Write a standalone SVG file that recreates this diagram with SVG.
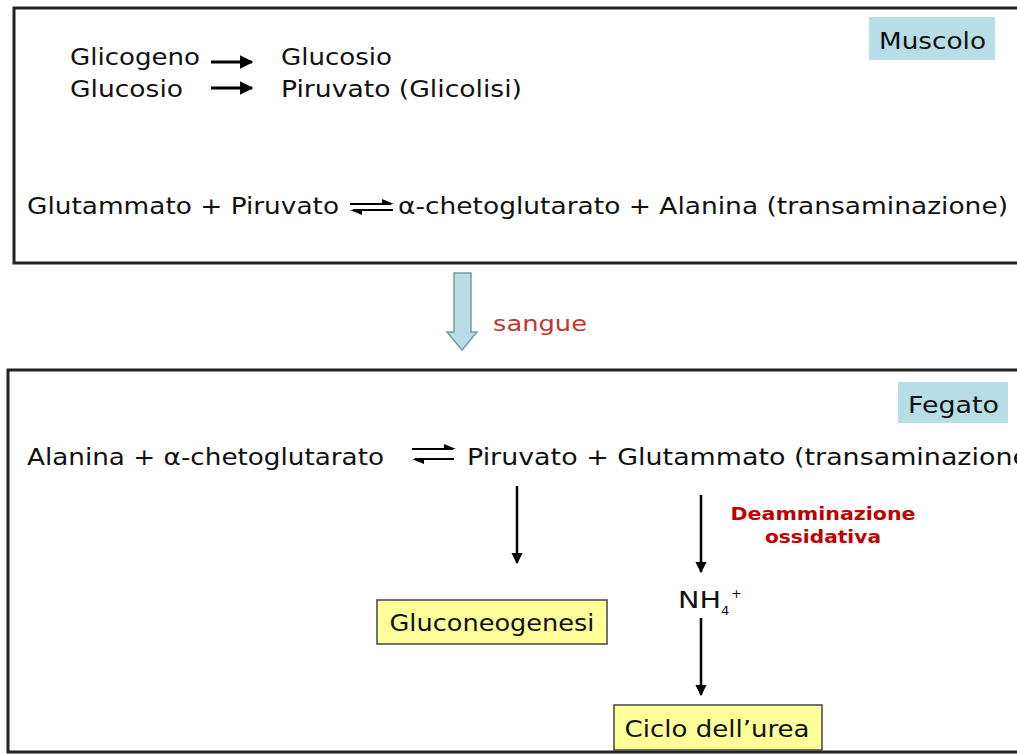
<svg xmlns="http://www.w3.org/2000/svg" width="1017" height="754" viewBox="0 0 1017 754">
<style>
.t{font-family:"DejaVu Sans","Liberation Sans",sans-serif;font-size:23px;fill:#111}
.red{font-family:"DejaVu Sans","Liberation Sans",sans-serif;font-size:21px;fill:#c0392b}
.bred{font-family:"DejaVu Sans","Liberation Sans",sans-serif;font-size:17px;font-weight:bold;fill:#c00000}
.frame{fill:#fff;stroke:#222;stroke-width:3}
.tag{fill:#b7dde6;stroke:none}
.yel{fill:#ffff99;stroke:#444;stroke-width:1.5}
.ln{stroke:#000;stroke-width:2.5;fill:none}
.eq{stroke:#000;stroke-width:2;fill:none}
</style>
<defs>
<marker id="ah" viewBox="0 0 10 10" refX="9" refY="5" markerWidth="4.5" markerHeight="5" orient="auto" markerUnits="strokeWidth">
<path d="M0,0 L10,5 L0,10 z" fill="#000"/>
</marker>
</defs>
<rect width="1017" height="754" fill="#fff"/>

<g id="muscolo-box">
<rect class="frame" x="14" y="8" width="1010" height="255"/>
<rect class="tag" x="869" y="17" width="126" height="43"/>
<text class="t" x="879" y="49" textLength="107" lengthAdjust="spacingAndGlyphs">Muscolo</text>
<text class="t" x="70" y="65" textLength="130" lengthAdjust="spacingAndGlyphs">Glicogeno</text>
<text class="t" x="70" y="97" textLength="113" lengthAdjust="spacingAndGlyphs">Glucosio</text>
<text class="t" x="281" y="65" textLength="111" lengthAdjust="spacingAndGlyphs">Glucosio</text>
<text class="t" x="281" y="97" textLength="241" lengthAdjust="spacingAndGlyphs">Piruvato (Glicolisi)</text>
<text class="t" x="27" y="214" textLength="312" lengthAdjust="spacingAndGlyphs">Glutammato + Piruvato</text>
<text class="t" x="398" y="214" textLength="610" lengthAdjust="spacingAndGlyphs">α-chetoglutarato + Alanina (transaminazione)</text>
</g>

<g id="sangue">
<path d="M454,273 L471,273 L471,332 L477,332 L462,350 L447,332 L454,332 Z" fill="#b7dde6" stroke="#7a9aa2" stroke-width="1.5"/>
<text class="red" x="493" y="331" textLength="94" lengthAdjust="spacingAndGlyphs">sangue</text>
</g>

<g id="fegato-box">
<rect class="frame" x="8" y="370" width="1020" height="382"/>
<rect class="tag" x="898" y="382" width="110" height="41"/>
<text class="t" x="908" y="413" textLength="91" lengthAdjust="spacingAndGlyphs">Fegato</text>
<text class="t" x="27" y="465" textLength="357" lengthAdjust="spacingAndGlyphs">Alanina + α-chetoglutarato</text>
<text class="t" x="467" y="465" textLength="562" lengthAdjust="spacingAndGlyphs">Piruvato + Glutammato (transaminazione</text>
<text class="bred" x="823" y="520" text-anchor="middle" textLength="185" lengthAdjust="spacingAndGlyphs">Deamminazione</text>
<text class="bred" x="823" y="543" text-anchor="middle" textLength="116" lengthAdjust="spacingAndGlyphs">ossidativa</text>
<text class="t" x="678" y="608" textLength="43" lengthAdjust="spacingAndGlyphs">NH</text>
<text class="t" x="721" y="615" style="font-size:13px">4</text>
<text class="t" x="731" y="598" style="font-size:13px">+</text>
</g>

<g id="gluconeogenesi">
<rect class="yel" x="377" y="600" width="230" height="44"/>
<text class="t" x="492" y="631" text-anchor="middle" textLength="205" lengthAdjust="spacingAndGlyphs">Gluconeogenesi</text>
</g>

<g id="ciclo-urea">
<rect class="yel" x="614" y="705" width="208" height="45"/>
<text class="t" x="717" y="737" text-anchor="middle" textLength="185" lengthAdjust="spacingAndGlyphs">Ciclo dell’urea</text>
</g>

<g id="connectors">
<line x1="211" y1="62" x2="252" y2="62" stroke="#000" stroke-width="3" marker-end="url(#ah)"/>
<line x1="211" y1="88" x2="252" y2="88" stroke="#000" stroke-width="3" marker-end="url(#ah)"/>
<path class="eq" d="M350,204 L391,204"/>
<path d="M394,204 L382,199 L382,205 Z" fill="#000"/>
<path class="eq" d="M353,210 L393,210"/>
<path d="M350,210 L362,215 L362,209 Z" fill="#000"/>
<path class="eq" d="M412,449 L453,449"/>
<path d="M456,449 L444,444 L444,450 Z" fill="#000"/>
<path class="eq" d="M415,459 L454,459"/>
<path d="M412,459 L424,464 L424,458 Z" fill="#000"/>
<line class="ln" x1="517" y1="486" x2="517" y2="563" marker-end="url(#ah)"/>
<line class="ln" x1="701" y1="495" x2="701" y2="572" marker-end="url(#ah)"/>
<line class="ln" x1="701" y1="618" x2="701" y2="695" marker-end="url(#ah)"/>
</g>
</svg>
